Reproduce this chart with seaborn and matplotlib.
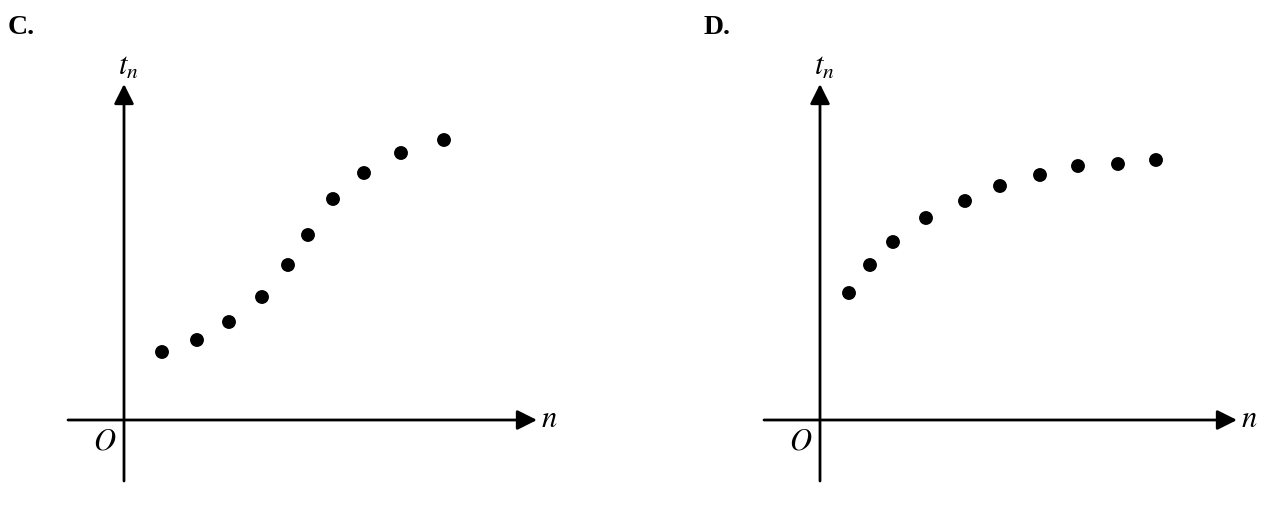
import matplotlib
matplotlib.use('Agg')
import matplotlib.pyplot as plt
import seaborn as sns
import pandas as pd

sns.set_style('white')
plt.rcParams['font.family'] = ['Liberation Serif', 'DejaVu Serif']
plt.rcParams['mathtext.fontset'] = 'stix'
plt.rcParams['text.color'] = 'black'

# panel C: n and t_n values (origin at 0,0)
n_c = [3.8, 7.3, 10.5, 13.8, 16.4, 18.4, 20.9, 24.0, 27.7, 32.0]
t_c = [6.8, 8.0, 9.8, 12.3, 15.5, 18.5, 22.1, 24.7, 26.7, 28.0]

# panel D
n_d = [2.9, 5.0, 7.3, 10.6, 14.5, 18.0, 22.0, 25.8, 29.8, 33.6]
t_d = [12.7, 15.5, 17.8, 20.2, 21.9, 23.4, 24.5, 25.4, 25.6, 26.0]

labels = ['C.', 'D.']

W, H = 1265, 510
fig = plt.figure(figsize=(W / 100, H / 100), dpi=100)

def make_ax(x0):
    # x0 = pixel position of origin, axes spans 520 px wide
    left = x0 - 75
    ax = fig.add_axes([left / W, 15 / H, 520 / W, 435 / H])
    ax.set_xlim(-7.5, 44.5)
    ax.set_ylim(-7.4, 36.1)
    ax.axis('off')
    return ax

panels = [(124, n_c, t_c, 41.3, labels[0]), (820, n_d, t_d, 41.7, labels[1])]

arrow = dict(arrowstyle='-|>', color='black', lw=2, mutation_scale=30,
             shrinkA=0, shrinkB=0)

for x0, nn, tt, xtip, lab in panels:
    ax = make_ax(x0)
    df = pd.DataFrame({'n': nn, 't': tt})
    # axes with arrows
    ax.annotate('', xy=(xtip, 0), xytext=(-5.6, 0), arrowprops=arrow)
    ax.annotate('', xy=(0, 33.6), xytext=(0, -6.1), arrowprops=arrow)
    sns.scatterplot(data=df, x='n', y='t', ax=ax, color='black', s=100,
                    edgecolor='none', zorder=3)
    ax.text(xtip + 1.2, 0.1, r'$n$', fontsize=22, ha='center', va='center')
    ax.text(-1.9, -2.1, r'$O$', fontsize=22, ha='center', va='center')
    ax.text(0.4, 35.4, r'$t_n$', fontsize=22, ha='center', va='center')
    fig.text((x0 - 116) / W, 1 - 27 / H, lab, fontsize=20, fontweight='bold',
             ha='left', va='center')

fig.savefig('out.png', dpi=100)
